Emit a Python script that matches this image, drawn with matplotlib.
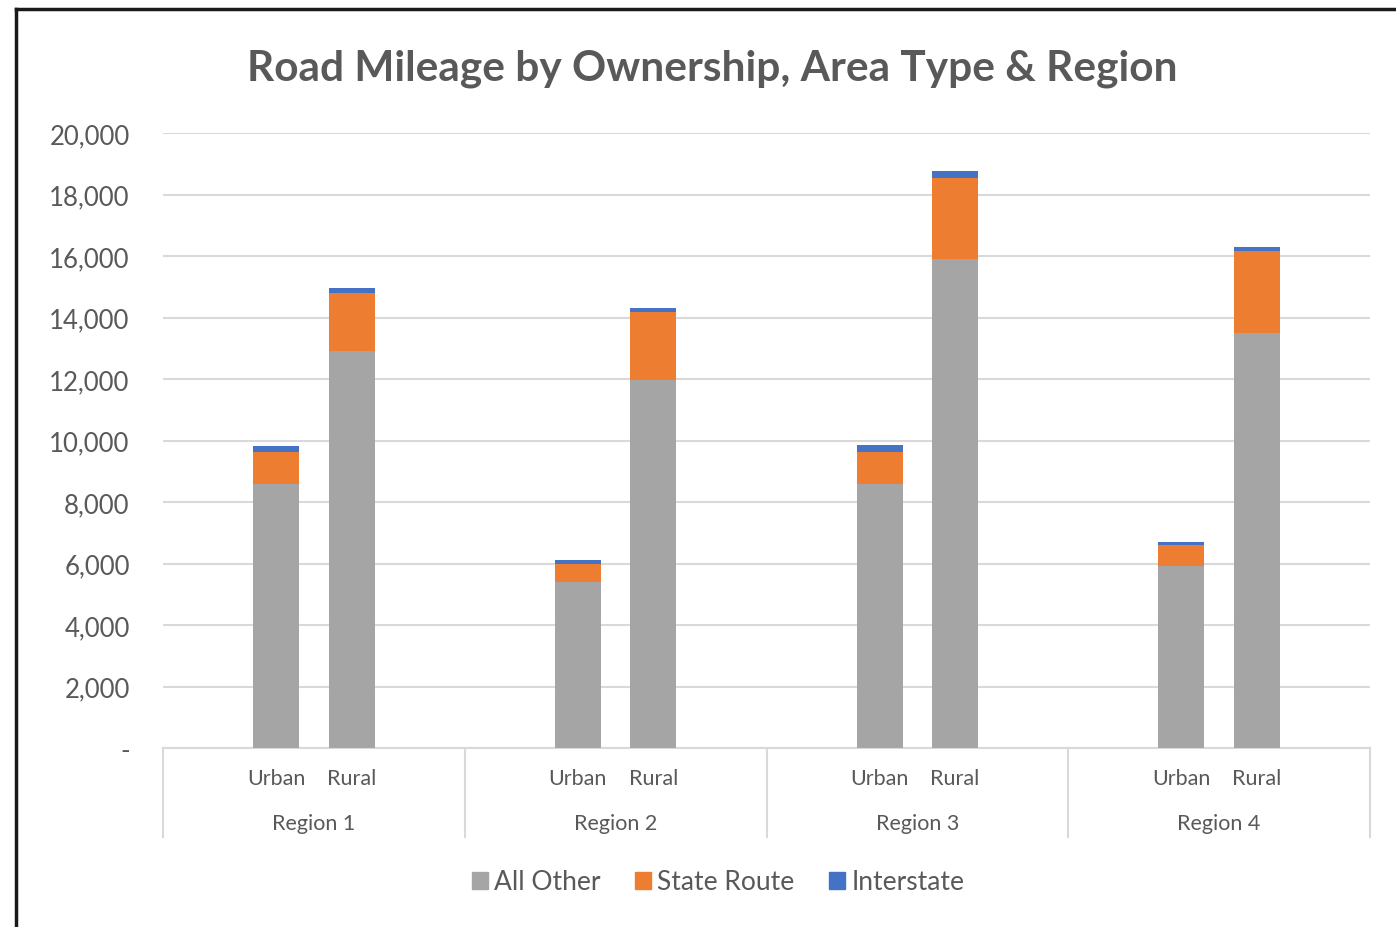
import matplotlib
matplotlib.use("Agg")
import matplotlib.pyplot as plt
from matplotlib.lines import Line2D
from matplotlib.patches import Patch
import numpy as np

REGIONS = ['Region 1', 'Region 2', 'Region 3', 'Region 4']
AREAS = ['Urban', 'Rural']

# values per bar: R1 Urban, R1 Rural, R2 Urban, R2 Rural, ...
all_other = [8590, 12920, 5390, 11980, 8590, 15900, 5910, 13490]
state_route = [1050, 1880, 590, 2210, 1030, 2630, 700, 2670]
interstate = [190, 160, 130, 120, 230, 230, 90, 130]

C_OTHER = '#A5A5A5'
C_STATE = '#ED7D31'
C_INTER = '#4472C4'
TXT = '#595959'
GRID = '#D9D9D9'

plt.rcParams['font.family'] = ['Lato', 'DejaVu Sans']

fig = plt.figure(figsize=(13.96, 9.28), dpi=100)
ax = fig.add_axes([163/1396, 1-749/928, (1370-163)/1396, (749-134)/928])

# each region holds 4 category slots, bars sit in slots 2 and 3
x = []
for r in range(len(REGIONS)):
    for a in range(len(AREAS)):
        x.append(r*4 + 1 + a)
x = np.array(x)
w = 0.61

other = np.array(all_other)
state = np.array(state_route)
inter = np.array(interstate)
ax.bar(x, other, w, color=C_OTHER, zorder=3)
ax.bar(x, state, w, bottom=other, color=C_STATE, zorder=3)
ax.bar(x, inter, w, bottom=other+state, color=C_INTER, zorder=3)

ax.set_xlim(-0.5, len(REGIONS)*4 - 0.5)
ax.set_ylim(0, 20000)
ax.set_yticks(np.arange(0, 20001, 2000))
ax.set_yticklabels(['-'] + ['{:,}'.format(v) for v in range(2000, 20001, 2000)])
ax.tick_params(axis='y', length=0, pad=24, labelsize=18.5, labelcolor=TXT)
ax.set_xticks([])
ax.grid(axis='y', color=GRID, linewidth=1.5, zorder=0)
for s in ['top', 'right', 'left']:
    ax.spines[s].set_visible(False)
ax.spines['bottom'].set_color(GRID)
ax.spines['bottom'].set_linewidth(1.5)

# two level category axis
for i, xi in enumerate(x):
    ax.text(xi, -0.049, AREAS[i % 2], transform=ax.get_xaxis_transform(),
            ha='center', va='center', fontsize=15.5, color=TXT)
for r, name in enumerate(REGIONS):
    ax.text(r*4 + 1.5, -0.122, name, transform=ax.get_xaxis_transform(),
            ha='center', va='center', fontsize=15.5, color=TXT)
for r in range(len(REGIONS) + 1):
    ax.plot([r*4 - 0.5, r*4 - 0.5], [0, -0.145], transform=ax.get_xaxis_transform(),
            color=GRID, linewidth=1.5, clip_on=False)

fig.text(712/1396, 1-69/928, 'Road Mileage by Ownership, Area Type & Region',
         ha='center', va='center', fontsize=30.5, fontweight='bold', color=TXT)

handles = [Patch(color=C_OTHER, label='All Other'),
           Patch(color=C_STATE, label='State Route'),
           Patch(color=C_INTER, label='Interstate')]
fig.legend(handles=handles, loc='center', bbox_to_anchor=(718/1396, 1-883/928),
           ncol=3, frameon=False, fontsize=19, labelcolor=TXT,
           handlelength=0.6, handleheight=0.6, handletextpad=0.25, columnspacing=1.3)

# screenshot frame
fig.add_artist(Line2D([15.5/1396, 15.5/1396], [0, 1-9.5/928], color='#1a1a1a', linewidth=2.5))
fig.add_artist(Line2D([15.5/1396, 1], [1-9.5/928, 1-9.5/928], color='#1a1a1a', linewidth=2.5))

plt.savefig('out.png', dpi=100)
